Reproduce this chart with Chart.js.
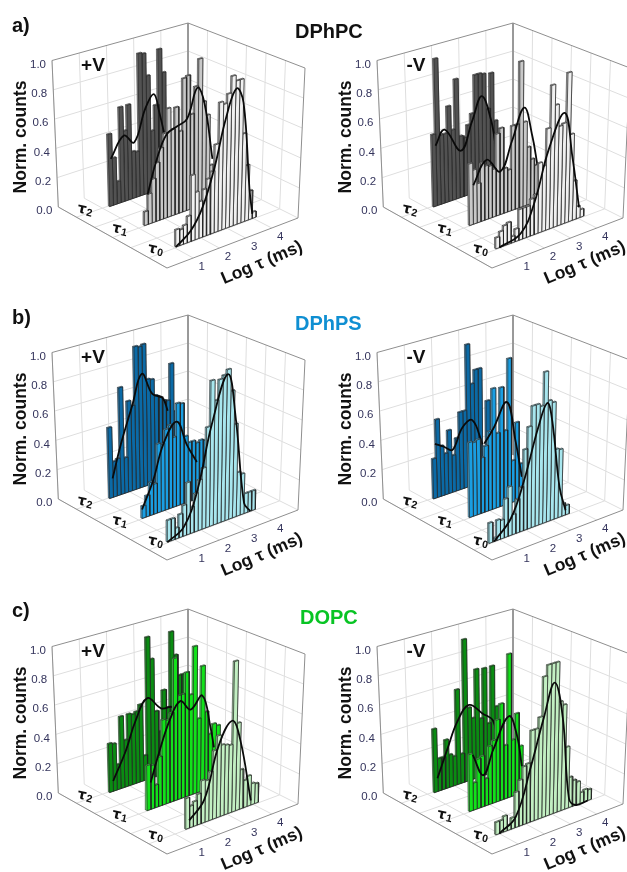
<!DOCTYPE html>
<html><head><meta charset="utf-8">
<style>
html,body{margin:0;padding:0;background:#fff;width:627px;height:872px;overflow:hidden}
#page{position:relative;width:627px;height:872px;overflow:hidden;font-family:"Liberation Sans",Arial,sans-serif}
.cell{position:absolute}
.cell canvas{filter:blur(.5px)}
.head{position:absolute;font-weight:bold;white-space:nowrap;transform:translateY(-50%);filter:blur(.3px)}
</style>
<script src="https://cdn.jsdelivr.net/npm/chart.js@4/dist/chart.umd.min.js"></script>
</head><body><div id="page"></div>
<script>
// ---------- tick labels and categories ----------
const countTicks=[0,0.2,0.4,0.6,0.8,1.0];
const logTicks=[1,2,3,4];
const sheetSubs=['2','1','0'];
const sheetDepths=[0.17,0.49,0.82];
const binWidth=0.146;

// ---------- DPhPC +V ----------
const aPlusStart=[1.24,1.24,1.06];
const aPlusT2=[.49,.32,.15,.65,.48,.65,.32,.31,.98,.97,.81,.42,.59,.97,.8,.28,.28,.15,.2,.1];
const aPlusT1=[.09,.2,.29,.39,.48,.57,.73,.58,.72,.55,.9,.91,.64,.82,1,.7,.6,.25,.17];
const aPlusT0=[.11,.1,.12,.17,.43,.31,.24,.31,.37,.41,.58,.85,.83,.89,1,.96,.96,.59,.37,.19,.04];
const aPlusC2P=[.6,4.1,6.7,9.7,11.9,13.2,15.8], aPlusC2V=[.32,.45,.38,.59,.67,.54,.2];
const aPlusC1P=[.9,3.3,5.9,8.5,11.1,13.7,15.5,17.7], aPlusC1V=[.2,.41,.56,.59,.62,.81,.69,.29];
const aPlusC0P=[0,3.9,7,10,12.6,15.2,17,19.1,20], aPlusC0V=[0,.07,.2,.44,.73,.91,.8,.2,.03];
// ---------- DPhPC -V ----------
const aMinusStart=[1.2,1.24,.87];
const aMinusT2=[.49,1,.47,.47,.65,.48,.82,.42,.4,.48,.55,.81,.81,.8,.55,.79,.45,.3,.1];
const aMinusT1=[.41,.36,.26,.39,.36,.35,.32,.55,.58,.3,.28,.57,.57,.99,.57,.39,.3,.25,.24];
const aMinusT0=[.07,.1,.13,.14,.04,.08,.2,.2,.2,.24,.26,.46,.43,.67,.95,.81,.66,.67,1,.58,.26,.08,.05];
const aMinusC2P=[.9,3.3,7.4,10.4,12.9,15.2,16.5], aMinusC2V=[.41,.5,.32,.5,.65,.47,.25];
const aMinusC1P=[1.1,4.6,8.1,11.1,14.2,16.3,17.7], aMinusC1V=[.26,.4,.29,.47,.67,.46,.25];
const aMinusC0P=[.9,6.5,10,13.5,17.4,19.6,21.7], aMinusC0V=[0,.04,.21,.53,.74,.43,.07];
// ---------- DPhPS +V ----------
const bPlusStart=[1.24,1.15,.74];
const bPlusT2=[.48,.24,.25,.73,.24,.62,.58,.98,.97,.98,.73,.72,.6,.58,.55,.54,.79,.45,.2];
const bPlusT1=[.08,.14,.22,.2,.46,.45,.54,.56,.47,.69,.68,.45,.4,.4,.38,.39,.38];
const bPlusT0=[.14,.14,.07,.15,.2,.34,.17,.25,.33,.4,.66,.96,.82,.95,.97,1,.85,.62,.29,.27,.13,.13,.13];
const bPlusC2P=[.9,3.2,6.3,8.9,11.5,14.1,15.4], bPlusC2V=[.13,.34,.58,.78,.62,.57,.47];
const bPlusC1P=[0,3,5.7,9.1,11.7,14.3], bPlusC1V=[.06,.23,.45,.57,.39,.25];
const bPlusC0P=[0,4.3,7.8,11.3,15.2,17.4,20,21.7], bPlusC0V=[0,.06,.27,.67,.97,.65,.07,0];
// ---------- DPhPS -V ----------
const bMinusStart=[1.2,1.24,.61];
const bMinusT2=[.27,.53,.34,.28,.43,.25,.36,.53,.53,.98,.7,.79,.79,.2,.55,.3,.2];
const bMinusT1=[.5,.49,.5,.37,.44,.53,.81,.5,.8,.5,.98,.28,.53,.24];
const bMinusT0=[.13,.02,.13,.12,.25,.32,.13,.22,.29,.53,.67,.8,.8,.78,1,.8,.78,.46,.45,.08,.06];
const bMinusC2P=[.7,3,5.2,7.8,10.4,13], bMinusC2V=[.37,.33,.29,.42,.45,.26];
const bMinusC1P=[4,6.3,9.8,12,13.7], bMinusC1V=[.46,.54,.69,.41,.15];
const bMinusC0P=[1.3,5.7,9.1,12.6,14.8,16.1,18.3,20], bMinusC0V=[0,.11,.33,.65,.79,.66,.2,.03];
// ---------- DOPC +V ----------
const cPlusStart=[1.24,1.34,1.44];
const cPlusT2=[.33,.32,.17,.49,.32,.49,.48,.49,.53,.17,.98,.82,.45,.3,.58,.45,.97,.8,.65,.65,.3];
const cPlusT1=[.3,.29,.15,.33,.57,.56,.6,.96,.7,.7,.84,.68,1,.5,.85,.53,.37,.43,.41];
const cPlusT0=[.2,.14,.16,.2,.28,.27,.32,.45,.54,.47,.46,.45,1,.58,.26,.18,.2,.14,.13];
const cPlusC2P=[1,4.5,7.1,10.2,13.7,16.7,18.9], cPlusC2V=[.07,.25,.43,.56,.46,.44,.27];
const cPlusC1P=[1,3.5,6.1,8.7,11.3,14.3,16.5,17.4], cPlusC1V=[.18,.38,.56,.66,.58,.65,.41,.27];
const cPlusC0P=[.9,4.8,8.3,11.7,13.9,17], cPlusC0V=[.05,.15,.47,.61,.46,.03];
// ---------- DOPC -V ----------
const cMinusStart=[1.23,1.24,.87];
const cMinusT2=[.43,.22,.22,.33,.22,.2,.65,.2,.98,.5,.42,.75,.4,.74,.35,.74,.45,.37];
const cMinusT1=[.38,.18,.33,.34,.18,.39,.42,.55,.65,.36,.97,.38,.55,.32,.17];
const cMinusT0=[.08,.08,.1,.03,.07,.23,.3,.38,.39,.6,.6,.67,.93,1,1,1,.73,.7,.41,.2,.17,.15,.07,.08,.07];
const cMinusC2P=[.9,3.7,6.3,9.4,12.9,15.5,16.8], cMinusC2V=[.09,.27,.43,.52,.43,.36,.19];
const cMinusC1P=[1,3.7,6.3,10.3,12.4,13.7], cMinusC1V=[.37,.21,.36,.55,.4,.18];
const cMinusC0P=[.9,5.2,9.1,12.2,14.8,17,19.1,20.9,24], cMinusC0V=[0,.07,.37,.66,.87,.62,.06,0,0];

// ---------- styles ----------
const greys={front:['#525252','#c8c8c8','#f0f0f0'],top:['#8c8c8c','#a8a8a8','#b4b4b4']};
const blues={front:['#0b6aa6','#1a9ee2','#a8e6ee'],top:['#3b8cc0','#5cbcec','#8cc8d2']};
const greens={front:['#0a8c12','#12e21a','#c2efc2'],top:['#2faa35','#55ee5c','#9cd09c']};

const panels=[
 {left:0,  top:0,  w:325,h:292,sign:'+V',col:greys, start:aPlusStart, bars:[aPlusT2,aPlusT1,aPlusT0], cp:[aPlusC2P,aPlusC1P,aPlusC0P], cv:[aPlusC2V,aPlusC1V,aPlusC0V]},
 {left:325,top:0,  w:302,h:292,sign:'-V',col:greys, start:aMinusStart,bars:[aMinusT2,aMinusT1,aMinusT0],cp:[aMinusC2P,aMinusC1P,aMinusC0P],cv:[aMinusC2V,aMinusC1V,aMinusC0V]},
 {left:0,  top:292,w:325,h:294,sign:'+V',col:blues, start:bPlusStart, bars:[bPlusT2,bPlusT1,bPlusT0], cp:[bPlusC2P,bPlusC1P,bPlusC0P], cv:[bPlusC2V,bPlusC1V,bPlusC0V]},
 {left:325,top:292,w:302,h:294,sign:'-V',col:blues, start:bMinusStart,bars:[bMinusT2,bMinusT1,bMinusT0],cp:[bMinusC2P,bMinusC1P,bMinusC0P],cv:[bMinusC2V,bMinusC1V,bMinusC0V]},
 {left:0,  top:586,w:325,h:286,sign:'+V',col:greens,start:cPlusStart, bars:[cPlusT2,cPlusT1,cPlusT0], cp:[cPlusC2P,cPlusC1P,cPlusC0P], cv:[cPlusC2V,cPlusC1V,cPlusC0V]},
 {left:325,top:586,w:302,h:286,sign:'-V',col:greens,start:cMinusStart,bars:[cMinusT2,cMinusT1,cMinusT0],cp:[cMinusC2P,cMinusC1P,cMinusC0P],cv:[cMinusC2V,cMinusC1V,cMinusC0V]}
];
const heads=[
 {t:'a)',x:12,y:25,s:20,c:'#111'},{t:'b)',x:12,y:317,s:20,c:'#111'},{t:'c)',x:12,y:610,s:20,c:'#111'},
 {t:'DPhPC',x:295,y:31,s:20,c:'#111'},{t:'DPhPS',x:295,y:323,s:20,c:'#0f8fd2'},{t:'DOPC',x:300,y:617,s:20,c:'#08c424'}
];

// ---------- box projection: logτ 0..5, depth 0..1 (back..front), count 0..1 ----------
const LOG_MAX=5;
const box={L:[58.3,207],B:[188,163],R:[298,218],F:[167,268],TL:[52,60.5],TB:[188,23],TR:[305,68],TF:[166,112]};
function bilerp(a,b,c,d,u,v){
  return [0,1].map(i=>a[i]*(1-u)*(1-v)+b[i]*u*(1-v)+c[i]*u*v+d[i]*(1-u)*v);
}
function proj(log,depth,count){
  const u=log/LOG_MAX;
  const f=bilerp(box.L,box.B,box.R,box.F,u,depth), t=bilerp(box.TL,box.TB,box.TR,box.TF,u,depth);
  return {x:f[0]+(t[0]-f[0])*count,y:f[1]+(t[1]-f[1])*count};
}
const GRID='#dedede',EDGE='#8f8f8f',THICK=0.006;

function lineSet(pts,color,width,extra){
  return Object.assign({data:pts,borderColor:color,borderWidth:width,fill:false,tension:0,pointRadius:0,clip:false,borderJoinStyle:'miter'},extra||{});
}
function buildDatasets(p){
  const ds=[];
  for(let l=0;l<=LOG_MAX;l++){
    ds.push(lineSet([proj(l,0,1),proj(l,0,0),proj(l,1,0)],GRID,1));
  }
  for(let k=1;k<6;k++){
    const d=k/6;
    ds.push(lineSet([proj(0,d,0),proj(LOG_MAX,d,0),proj(LOG_MAX,d,1)],GRID,1));
  }
  countTicks.forEach(c=>{ if(c>0&&c<1) ds.push(lineSet([proj(0,0,c),proj(LOG_MAX,0,c),proj(LOG_MAX,1,c)],GRID,1)); });
  ds.push(lineSet([proj(0,1,0),proj(0,0,0),proj(0,0,1),proj(LOG_MAX,0,1),proj(LOG_MAX,1,1),proj(LOG_MAX,1,0),proj(0,1,0)],EDGE,1));
  ds.push(lineSet([proj(LOG_MAX,0,1),proj(LOG_MAX,0,0)],EDGE,1));
  p.bars.forEach((vals,s)=>{
    const d=sheetDepths[s],st=p.start[s];
    for(let i=vals.length-1;i>=0;i--){
      const a=st+i*binWidth,b=a+binWidth,v=vals[i];
      const dB=d-THICK,dF=d+THICK;
      ds.push(lineSet([proj(a,dF,v),proj(a,dB,v),proj(b,dB,v),proj(b,dF,v),proj(b,dF,0),proj(a,dF,0),proj(a,dB,0),proj(a,dB,v)],'#333',.6,{fill:'shape',backgroundColor:p.col.top[s]}));
      ds.push(lineSet([proj(a,dF,0),proj(a,dF,v),proj(b,dF,v),proj(b,dF,0),proj(a,dF,0)],'#222',.7,{fill:'shape',backgroundColor:p.col.front[s]}));
    }
    const cp=p.cp[s],cv=p.cv[s];
    ds.push(lineSet(cp.map((q,i)=>proj(st+q*binWidth,d+THICK,cv[i])),'#0a0a0a',1.8,{tension:.4,borderJoinStyle:'round'}));
  });
  ds.forEach((x,i)=>x.order=-i);
  return ds;
}
const textPlugin={id:'boxText',afterDatasetsDraw(chart,args,o){
  const {ctx,scales:{x,y}}=chart;
  const put=(pt,dx,dy)=>[x.getPixelForValue(pt.x)+dx,y.getPixelForValue(pt.y)+dy];
  const txt=(t,px,py,font,color,align,rot)=>{
    ctx.save();ctx.translate(px,py);if(rot)ctx.rotate(rot*Math.PI/180);
    ctx.font=font;ctx.fillStyle=color;ctx.textAlign=align||'center';ctx.textBaseline='middle';ctx.fillText(t,0,0);ctx.restore();
  };
  const F='"Liberation Sans",Arial,sans-serif',TICK='#34345c';
  countTicks.forEach(c=>{const q=put(proj(0,0,c),-6,4);txt(c.toFixed(1),q[0],q[1],'11.5px '+F,TICK,'right');});
  logTicks.forEach(l=>{const q=put(proj(l,1,0),8.5,9);txt(String(l),q[0],q[1],'11.5px '+F,TICK);});
  sheetSubs.forEach((n,s)=>{
    const q=put(proj(0,sheetDepths[s],0),5,-8);
    txt('τ',q[0],q[1],'bold 14px "DejaVu Sans"','#111','center',12);
    txt(n,q[0]+7.5,q[1]+4,'bold 10.5px '+F,'#111','center',12);
  });
  txt(o.sign,o.signX,66,'bold 19px '+F,'#111');
  txt('Norm. counts',21,137,'bold 17.5px '+F,'#111','center',-90);
  txt('Log τ (ms)',o.logX,263,'bold 17.5px '+F,'#111','center',-23);
}};
const page=document.getElementById('page');
panels.forEach(p=>{
  const cell=document.createElement('div');cell.className='cell';
  cell.style.cssText=`left:${p.left}px;top:${p.top}px;width:${p.w}px;height:${p.h}px`;
  const cv=document.createElement('canvas');cv.width=p.w;cv.height=p.h;cv.style.width=p.w+'px';cv.style.height=p.h+'px';
  cell.appendChild(cv);page.appendChild(cell);
  new Chart(cv,{type:'line',data:{datasets:buildDatasets(p)},plugins:[textPlugin],options:{
    responsive:false,animation:false,events:[],spanGaps:true,
    layout:{padding:0},
    plugins:{legend:{display:false},tooltip:{enabled:false},boxText:{sign:p.sign,signX:p.sign==='+V'?93:91,logX:p.left?260:262}},
    scales:{x:{type:'linear',display:false,min:0,max:p.w},y:{type:'linear',display:false,reverse:true,min:0,max:p.h}}
  }});
});
heads.forEach(h=>{
  const d=document.createElement('div');d.className='head';d.textContent=h.t;
  d.style.cssText=`left:${h.x}px;top:${h.y}px;font-size:${h.s}px;color:${h.c}`;page.appendChild(d);
});
</script>
</body></html>
